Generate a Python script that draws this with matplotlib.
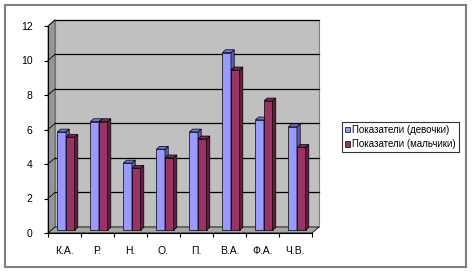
import matplotlib
matplotlib.use('Agg')
import matplotlib.pyplot as plt
from matplotlib.patches import Polygon, Rectangle

plt.rcParams['font.family'] = ['Liberation Sans', 'DejaVu Sans']

categories = ['К.А.', 'Р.', 'Н.', 'О.', 'П.', 'В.А.', 'Ф.А.', 'Ч.В.']
girls = [5.7, 6.3, 3.9, 4.7, 5.7, 10.3, 6.4, 6.0]
boys = [5.4, 6.3, 3.6, 4.2, 5.3, 9.3, 7.5, 4.8]
series_names = ['Показатели (девочки)', 'Показатели (мальчики)']
y_ticks = [0, 2, 4, 6, 8, 10, 12]

# face colours: front, side, top
girls_col = ('#9999FF', '#5C5CB8', '#7373D6')
boys_col = ('#993366', '#5E1F3F', '#7A2952')

fig = plt.figure(figsize=(4.72, 2.73), dpi=100)
fig.patches.append(Rectangle((5 / 472, 6 / 273), 461 / 472, 262 / 273,
                             transform=fig.transFigure, fill=False,
                             edgecolor='#808080', linewidth=1.5))

ax = fig.add_axes([48 / 472, 40 / 273, 264 / 472, 207 / 273])
n = len(categories)
ax.set_xlim(0, n)
ax.set_ylim(0, 12)

# depth of the 3d box in data units
dx, dy = 0.21, 0.35

# walls
ax.add_patch(Rectangle((dx, dy), n, 12, facecolor='#C0C0C0', edgecolor='#808080',
                       linewidth=0.8, clip_on=False, zorder=0))
ax.add_patch(Polygon([(0, 0), (dx, dy), (dx, 12 + dy), (0, 12)], closed=True,
                     facecolor='#969696', edgecolor='#606060', linewidth=0.6,
                     clip_on=False, zorder=0))
ax.add_patch(Polygon([(0, 0), (n, 0), (n + dx, dy), (dx, dy)], closed=True,
                     facecolor='#A6A6A6', edgecolor='black', linewidth=0.6,
                     clip_on=False, zorder=0))
for t in y_ticks[1:]:
    ax.plot([dx, n + dx], [t + dy, t + dy], color='black', lw=0.9, clip_on=False, zorder=1)
    ax.plot([0, dx], [t, t + dy], color='black', lw=0.6, clip_on=False, zorder=1)

# bars
w = 0.26
ox, oy = 0.45 * dx, 0.45 * dy
bx, by = 0.92 * dx, 0.92 * dy
for i in range(n):
    for k, (vals, col) in enumerate([(girls, girls_col), (boys, boys_col)]):
        x0 = i + 0.19 + k * w
        x1 = x0 + w
        v = vals[i]
        ax.bar(x0 + ox, v, w, bottom=oy, align='edge', color=col[0],
               edgecolor='black', linewidth=0.5, zorder=3, clip_on=False,
               label=series_names[k] if i == 0 else None)
        ax.add_patch(Polygon([(x1 + ox, oy), (x1 + bx, by), (x1 + bx, v + by), (x1 + ox, v + oy)],
                             closed=True, facecolor=col[1], edgecolor='black',
                             linewidth=0.5, zorder=3, clip_on=False))
        ax.add_patch(Polygon([(x0 + ox, v + oy), (x1 + ox, v + oy), (x1 + bx, v + by), (x0 + bx, v + by)],
                             closed=True, facecolor=col[2], edgecolor='black',
                             linewidth=0.5, zorder=3, clip_on=False))

for s in ['top', 'right']:
    ax.spines[s].set_visible(False)
ax.spines['left'].set_linewidth(0.8)
ax.spines['bottom'].set_linewidth(0.8)
ax.set_yticks(y_ticks)
ax.set_yticklabels([str(t) for t in y_ticks], fontsize=7.5)
ax.set_xticks(range(n + 1))
ax.set_xticklabels([])
ax.set_xticks([i + 0.5 for i in range(n)], minor=True)
ax.set_xticklabels(categories, minor=True, fontsize=7.5)
ax.tick_params(axis='x', which='minor', length=0, pad=9)
ax.tick_params(axis='x', which='major', length=3, width=0.8, direction='out')
ax.tick_params(axis='y', length=3, width=0.8, pad=8)
ax.patch.set_visible(False)

leg = fig.legend(loc='center left', bbox_to_anchor=(342 / 472, 1 - 137 / 273),
                 fontsize=7, frameon=True, fancybox=False, edgecolor='black',
                 handlelength=0.5, handleheight=0.5, handletextpad=0.25,
                 borderpad=0.3, labelspacing=0.45, borderaxespad=0)
leg.get_frame().set_linewidth(0.8)

fig.savefig('out.png', dpi=100)
